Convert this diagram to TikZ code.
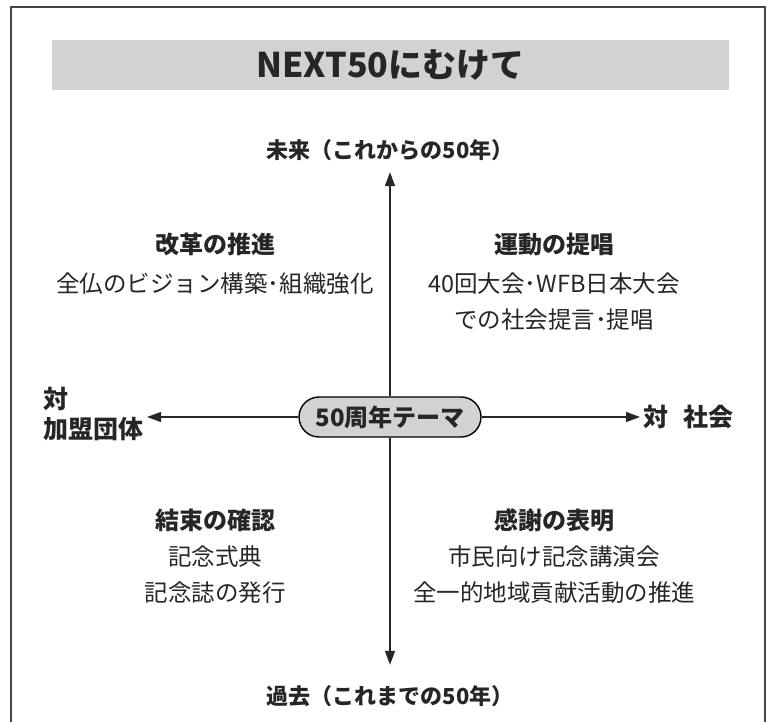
\documentclass[tikz,border=0pt]{standalone}
\usepackage{fontspec}
\setmainfont{Noto Sans CJK JP}
\usepackage{xcolor}
\usetikzlibrary{arrows.meta}
\definecolor{bandgray}{HTML}{D1D2D4}
\definecolor{framegray}{HTML}{444444}

\begin{document}
\begin{tikzpicture}[x=1pt,y=-1pt,
    axis/.style={-{Triangle[width=10pt,length=14pt]},line width=1.4pt,black!85},
    head/.style={font=\fontsize{24}{28}\selectfont\bfseries,text=black!85},
    body/.style={font=\fontsize{23.5}{36}\selectfont,align=center,text=black!85},
    side/.style={font=\fontsize{25}{30}\selectfont\bfseries,align=left,text=black!85},
    era/.style={font=\fontsize{22}{26}\selectfont\bfseries,text=black!85}]
  \useasboundingbox (0,0) rectangle (768,722);
  \draw[framegray,line width=1.5pt] (11,730) -- (11,7) -- (765,7) -- (765,730);
  \node[fill=bandgray,minimum width=677pt,minimum height=50pt,
        font=\fontsize{34}{38}\selectfont\bfseries,text=black!85] (title) at (390.5,65) {NEXT50にむけて};
  \node[era] (future) at (390,150) {未来（これからの50年）};
  \node[era] (past) at (390,696) {過去（これまでの50年）};
  \node[draw,fill=bandgray,rounded corners=20pt,minimum width=182pt,minimum height=40pt,
        line width=1.4pt,font=\fontsize{24}{28}\selectfont\bfseries,text=black!85] (theme) at (390,417) {50周年テーマ};
  \node[side,anchor=west] (members) at (40,414) {対\\加盟団体};
  \node[side,anchor=west] (society) at (640,417) {対\hspace{0.6em}社会};
  \draw[axis,shorten >=8pt] (theme.north) -- (future.south);
  \draw[axis,shorten >=17pt] (theme.south) -- (past.north);
  \draw[axis] (theme.west) -- (theme.west -| members.east);
  \draw[axis] (theme.east) -- (theme.east -| society.west);
  \node[head] (reform) at (215,244) {改革の推進};
  \node[body] (reformtxt) at (215,284) {全仏のビジョン構築･組織強化};
  \node[head] (advocacy) at (554,244) {運動の提唱};
  \node[body] (advocacytxt) at (554,302) {40回大会･WFB日本大会\\での社会提言･提唱};
  \node[head] (unity) at (215,520) {結束の確認};
  \node[body] (unitytxt) at (215,575) {記念式典\\記念誌の発行};
  \node[head] (thanks) at (554,520) {感謝の表明};
  \node[body] (thankstxt) at (554,575) {市民向け記念講演会\\全一的地域貢献活動の推進};
\end{tikzpicture}
\end{document}
